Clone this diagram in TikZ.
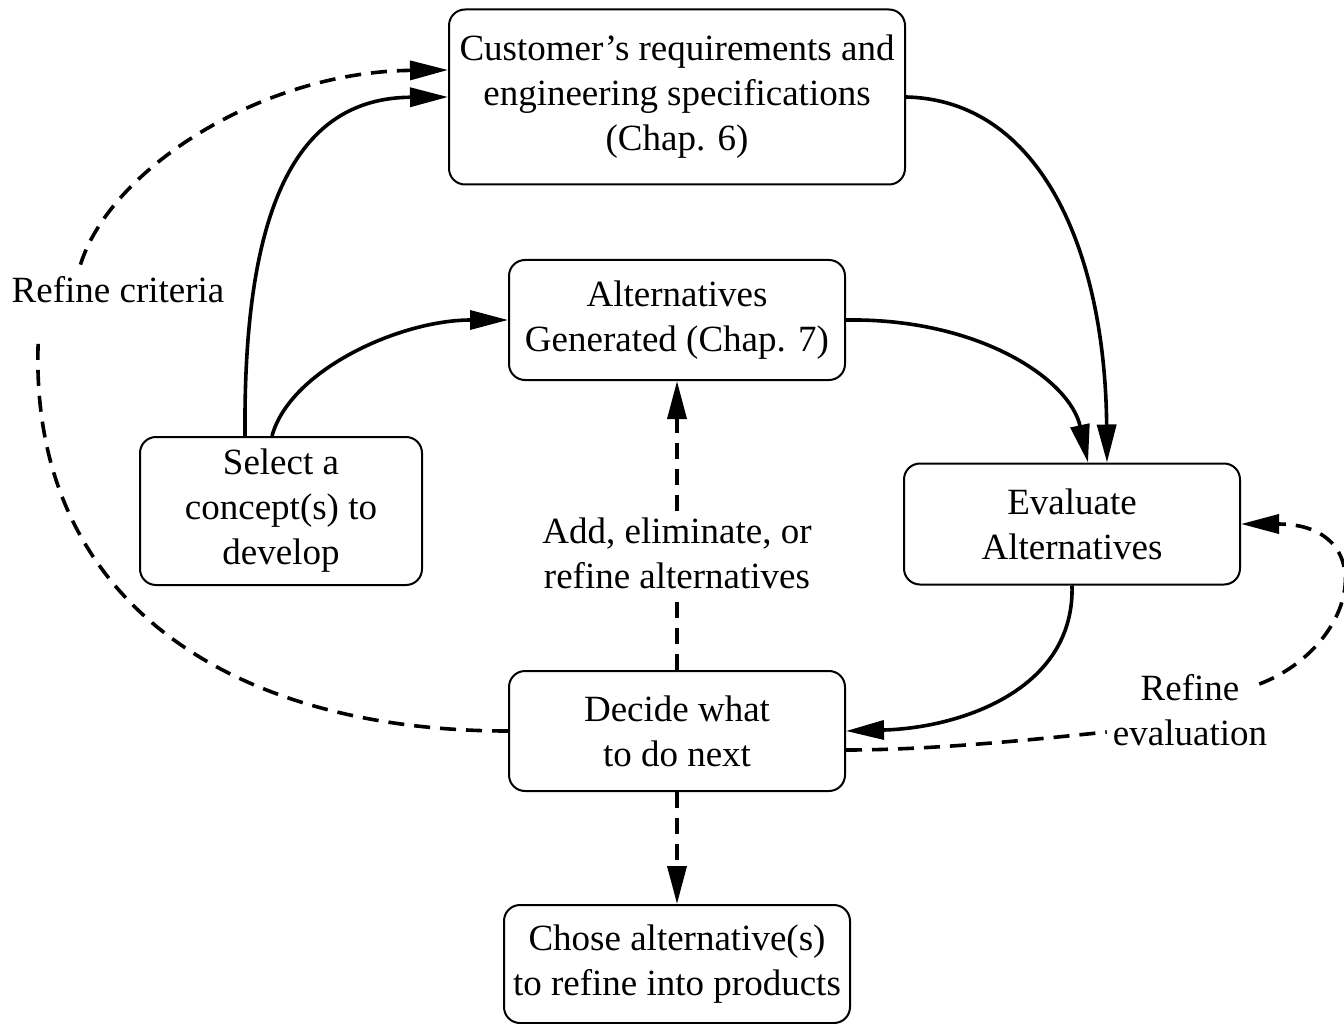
\documentclass[tikz,border=0pt]{standalone}
\usepackage{fontspec}
\setmainfont{Liberation Serif}
\usetikzlibrary{arrows.meta}

\begin{document}
\begin{tikzpicture}[x=1pt, y=-1pt,
    every node/.style={font=\fontsize{37}{45}\selectfont},
    box/.style={draw, line width=2pt, rounded corners=16pt, align=center, inner sep=0pt},
    lbl/.style={align=center, inner sep=6pt},
    flow/.style={line width=3.6pt, -{Triangle[length=38pt,width=19pt]}},
    back/.style={line width=3.6pt, dash pattern=on 16pt off 10pt},
    backarrow/.style={back, -{Triangle[length=38pt,width=19pt]}}]
    \useasboundingbox (0,0) rectangle (1344,1024);

    % boxes
    \node[box, minimum width=456pt, minimum height=175pt] (cust) at (677,97) {Customer's requirements and\\engineering specifications\\(Chap. 6)};
    \node[box, minimum width=336pt, minimum height=120pt] (alt) at (677,320) {Alternatives\\Generated (Chap. 7)};
    \node[box, minimum width=282pt, minimum height=148pt] (sel) at (281,511) {Select a\\concept(s) to\\develop};
    \node[box, minimum width=336pt, minimum height=121pt] (eval) at (1072,524) {Evaluate\\Alternatives};
    \node[box, minimum width=336pt, minimum height=120pt] (dec) at (677,731) {Decide what\\to do next};
    \node[box, minimum width=346pt, minimum height=118pt] (chose) at (677,964) {Chose alternative(s)\\to refine into products};

    % labels
    \node[lbl] (crit) at (118,290) {Refine criteria};
    \node[lbl] (addl) at (677,553) {Add, eliminate, or\\refine alternatives};
    \node[lbl] (refev) at (1190,710) {Refine\\evaluation};

    % main flow
    \draw[flow] ([xshift=-36pt]sel.north) .. controls (243,200) and (300,98) .. (cust.west);
    \draw[flow] ([xshift=-9pt]sel.north) .. controls (290,370) and (400,320) .. (alt.west);
    \draw[flow] (cust.east) .. controls (1040,100) and (1105,250) .. ([xshift=35pt]eval.north);
    \draw[flow] (alt.east) .. controls (980,318) and (1070,380) .. ([xshift=16pt]eval.north);
    \draw[flow] (eval.south) .. controls (1075,690) and (960,728) .. (dec.east);

    % feedback
    \draw[back] (dec.north) -- (addl.south);
    \draw[backarrow] (addl.north) -- (alt.south);
    \draw[backarrow] (dec.south) -- (chose.north);
    \draw[back] (dec.west) .. controls (230,731) and (25,600) .. ([xshift=33pt,yshift=-26pt]crit.south west);
    \draw[backarrow] ([xshift=75pt,yshift=6pt]crit.north west) .. controls (110,170) and (260,72) .. ([yshift=27pt]cust.west);
    \draw[back] ([yshift=-19pt]dec.east) .. controls (930,750) and (1030,740) .. ([yshift=-22pt]refev.west);
    \draw[backarrow] ([xshift=-14pt,yshift=-16pt]refev.north east) .. controls (1360,645) and (1380,524) .. (eval.east);
\end{tikzpicture}
\end{document}
